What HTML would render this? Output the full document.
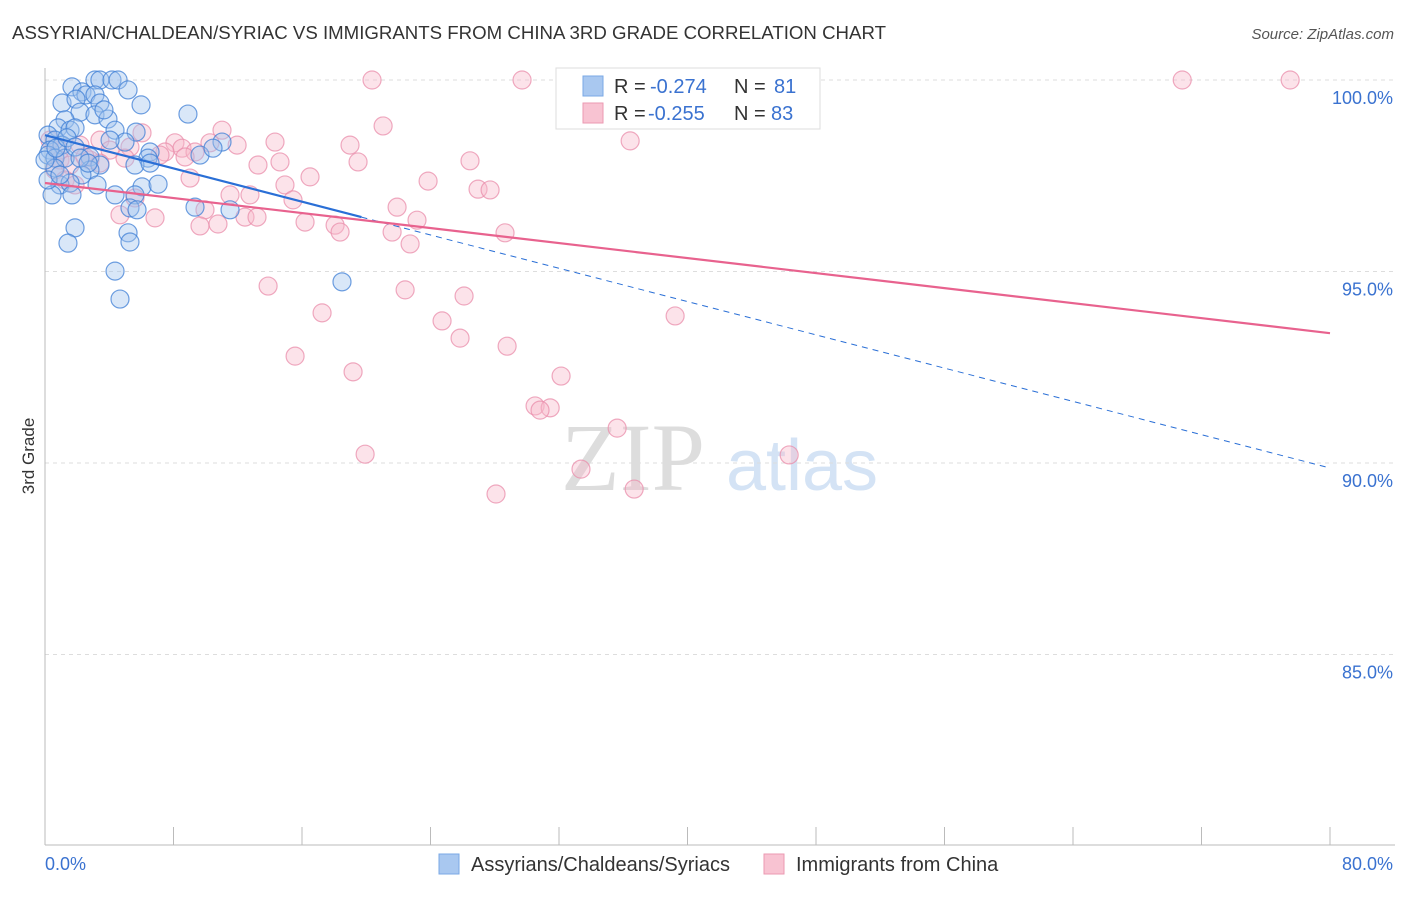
<!DOCTYPE html>
<html><head><meta charset="utf-8"><style>
body{margin:0;background:#fff;font-family:"Liberation Sans",sans-serif}
</style></head><body>
<svg id="chart" width="1406" height="892" xmlns="http://www.w3.org/2000/svg" font-family="Liberation Sans, sans-serif">
<text x="12" y="39" font-size="18" fill="#333" textLength="874" lengthAdjust="spacingAndGlyphs">ASSYRIAN/CHALDEAN/SYRIAC VS IMMIGRANTS FROM CHINA 3RD GRADE CORRELATION CHART</text>
<text x="1394" y="39" font-size="15" fill="#555" text-anchor="end" font-style="italic">Source: ZipAtlas.com</text>
<text transform="translate(34,456) rotate(-90)" font-size="17" fill="#333" text-anchor="middle">3rd Grade</text>
<g>
<text x="633" y="490" font-size="96" fill="#ddd" text-anchor="middle" font-family="Liberation Serif, serif">ZIP</text>
<text x="802" y="490" font-size="72" fill="#d4e3f5" text-anchor="middle">atlas</text>
</g>
<g id="grid"></g><g id="axes"></g><g id="pts"></g><g id="trends"></g>
<g>
<rect x="556" y="68" width="264" height="61" fill="#fff" stroke="#ddd"/>
<rect x="583" y="76" width="20" height="20" fill="#a9c8f0" stroke="#7aa8e6"/>
<rect x="583" y="103" width="20" height="20" fill="#f8c3d2" stroke="#eb9ab2"/>
<text x="614" y="93" font-size="20" fill="#333">R = <tspan fill="#3a72d0" x="650">-0.274</tspan><tspan x="734">N = </tspan><tspan fill="#3a72d0" x="774">81</tspan></text>
<text x="614" y="120" font-size="20" fill="#333">R = <tspan fill="#3a72d0" x="648">-0.255</tspan><tspan x="734">N = </tspan><tspan fill="#3a72d0" x="771">83</tspan></text>
</g>
<g>
<rect x="439" y="854" width="20" height="20" fill="#a9c8f0" stroke="#7aa8e6"/>
<text x="471" y="871" font-size="20" fill="#333">Assyrians/Chaldeans/Syriacs</text>
<rect x="764" y="854" width="20" height="20" fill="#f8c3d2" stroke="#eb9ab2"/>
<text x="796" y="871" font-size="20" fill="#333">Immigrants from China</text>
</g>
</svg>
<script>
const blueX=[1.68,3.11,3.42,4.17,4.55,5.17,2.30,2.55,3.11,1.06,1.93,3.42,5.98,8.9,2.18,3.11,3.92,1.25,0.81,1.56,1.87,0.19,0.62,4.36,5.67,11.02,4.98,1.06,0.31,0.19,0.62,1.25,2.80,6.54,9.65,10.46,6.41,5.6,3.42,2.80,0.62,2.30,0.93,1.56,3.24,6.04,7.04,0.44,1.68,4.36,5.6,5.29,9.34,11.52,5.73,1.87,5.17,1.43,5.29,4.36,18.49,4.67,0.19,0,0.68,1.37,1.87,4.05,6.54,2.18,0.93,2.68,3.67];
const blueY=[99.82,100,100,100,100,99.74,99.69,99.61,99.61,99.4,99.5,99.4,99.35,99.11,99.16,99.09,98.98,98.96,98.75,98.69,98.75,98.56,98.43,98.69,98.64,98.38,98.38,98.3,98.17,98.04,97.96,97.96,97.99,98.12,98.04,98.22,97.96,97.78,97.78,97.65,97.7,97.52,97.26,97.31,97.26,97.21,97.28,97.0,97.0,97.0,97.0,96.66,96.68,96.61,96.61,96.14,96.01,95.74,95.77,95.01,94.73,94.28,97.39,97.91,98.22,98.49,98.25,98.43,97.83,97.96,97.52,97.83,99.22];
const pinkX=[20.36,29.7,32.81,70.8,77.52,21.05,36.43,11.02,6.04,3.42,8.09,8.53,10.27,11.96,14.32,18.99,0.93,2.18,4.05,5.29,7.47,9.34,7.16,8.72,13.26,14.63,19.49,26.46,4.98,0.93,2.80,0.62,1.56,3.42,9.03,16.5,23.85,26.96,27.71,14.94,11.52,12.76,15.44,21.92,5.6,9.96,4.67,23.16,16.19,18.06,18.37,21.61,28.64,6.85,9.65,10.77,12.45,13.2,22.73,13.89,22.42,26.09,17.25,24.72,39.23,25.84,28.77,15.57,19.18,32.13,30.51,31.45,30.82,35.62,19.93,46.33,33.37,36.68,28.08,1.25,2.49,0.31,1.87];
const pinkY=[100,100,100,100,100,98.8,98.41,98.69,98.62,98.43,98.36,98.22,98.36,98.3,98.38,98.3,98.17,98.3,98.17,98.25,98.12,98.12,98.04,97.99,97.78,97.86,97.86,97.89,97.96,97.91,97.91,97.65,97.78,97.83,97.44,97.47,97.36,97.15,97.13,97.26,97.0,97.0,96.87,96.68,96.92,96.61,96.48,96.34,96.29,96.21,96.03,96.03,96.01,96.4,96.19,96.24,96.42,96.42,95.72,94.62,94.52,94.36,93.92,93.71,93.84,93.26,93.05,92.79,92.38,92.27,91.49,91.44,91.38,90.91,90.23,90.21,89.84,89.32,89.19,97.39,97.99,98.43,97.26];
const blueTrend=[98.56,89.87];
const blueSolidEnd=19.7;
const pinkTrend=[97.31,93.39];
const yTicks=[100,95,90,85];
const yTickLabels=["100.0%","95.0%","90.0%","85.0%"];
const xTicks=[0,8,16,24,32,40,48,56,64,72,80];
const NS="http://www.w3.org/2000/svg";
const X=v=>45+v*(1285/80), Y=v=>80+(100-v)*38.3;
function mk(tag,attrs,parent){const e=document.createElementNS(NS,tag);for(const k in attrs)e.setAttribute(k,attrs[k]);document.getElementById(parent).appendChild(e);return e;}
yTicks.forEach((t,i)=>{
 const g=mk('line',{x1:45,x2:1395,y1:Y(t),y2:Y(t),stroke:'#ddd','stroke-dasharray':'4,4'},'grid');
 
 
 const l=mk('text',{x:1393,y:Y(t)+24,'font-size':18,fill:'#3a72d0','text-anchor':'end'},'axes');
 l.textContent=yTickLabels[i];
 
 
});
const ax=mk('line',{x1:45,x2:45,y1:68,y2:845,stroke:'#bbb'},'axes');


const bx=mk('line',{x1:45,x2:1395,y1:845,y2:845,stroke:'#bbb'},'axes');


xTicks.forEach(t=>{
 const e=mk('line',{x1:X(t),x2:X(t),y1:827,y2:845,stroke:'#bbb'},'axes');
 
 
});
const xl0=mk('text',{x:45,y:870,'font-size':18,fill:'#3a72d0'},'axes');xl0.textContent='0.0%';


const xl1=mk('text',{x:1393,y:870,'font-size':18,fill:'#3a72d0','text-anchor':'end'},'axes');xl1.textContent='80.0%';


function pts(xs,ys,fill,stroke,name){xs.forEach((x,i)=>{
 const c=mk('circle',{cx:X(x),cy:Y(ys[i]),r:9,fill:fill,'fill-opacity':0.4,stroke:stroke,'stroke-width':1.2,'stroke-opacity':0.75},'pts');
 
 
});}
pts(pinkX,pinkY,'#f8b8cb','#ea8eab','china-point');
pts(blueX,blueY,'#9fc2ee','#3f7fd6','assyrian-point');
const by=x=>blueTrend[0]+(blueTrend[1]-blueTrend[0])*x/80;
const py=x=>pinkTrend[0]+(pinkTrend[1]-pinkTrend[0])*x/80;
const t1=mk('line',{x1:X(0),y1:Y(by(0)),x2:X(blueSolidEnd),y2:Y(by(blueSolidEnd)),stroke:'#2a6fd6','stroke-width':2.2},'trends');


const t2=mk('line',{x1:X(blueSolidEnd),y1:Y(by(blueSolidEnd)),x2:X(80),y2:Y(by(80)),stroke:'#2a6fd6','stroke-width':1,'stroke-dasharray':'6,5'},'trends');


const t3=mk('line',{x1:X(0),y1:Y(py(0)),x2:X(80),y2:Y(py(80)),stroke:'#e8628e','stroke-width':2.2},'trends');


</script>
</body></html>
